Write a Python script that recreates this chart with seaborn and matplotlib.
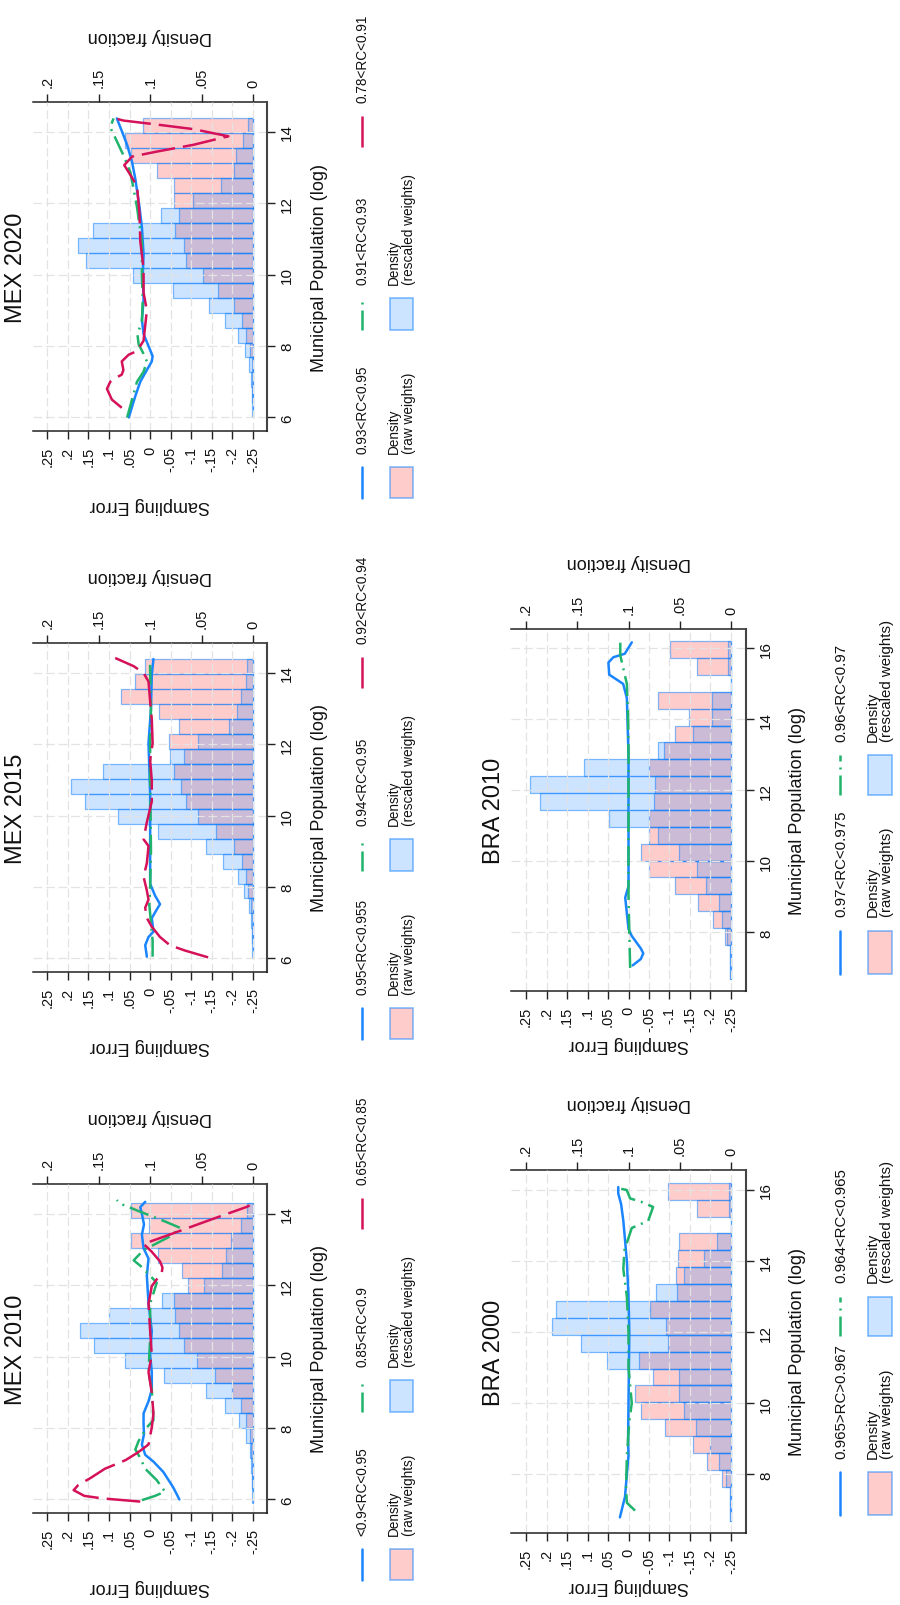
import numpy as np
import pandas as pd
import matplotlib
matplotlib.use("Agg")
import matplotlib.pyplot as plt
from matplotlib.lines import Line2D
from matplotlib.patches import Rectangle
import seaborn as sns

# ---------------- data ----------------
se_ticks = [0.25, 0.2, 0.15, 0.1, 0.05, 0.0, -0.05, -0.1, -0.15, -0.2, -0.25]
se_labels = [".25", ".2", ".15", ".1", ".05", "0", "-.05", "-.1", "-.15", "-.2", "-.25"]
dens_ticks = [0.2, 0.15, 0.1, 0.05, 0.0]
dens_labels = [".2", ".15", ".1", ".05", "0"]
mex_pop_ticks = [6, 8, 10, 12, 14]
bra_pop_ticks = [8, 10, 12, 14, 16]

mex_bin_width = 0.42
bra_bin_width = 0.475

# MEX 2020
mex20_bin_start = 6.0
mex20_raw = [0.0003, 0.0005, 0.0005, 0.001, 0.003, 0.007, 0.011, 0.0185, 0.034, 0.049,
             0.065, 0.0673, 0.0754, 0.0715, 0.077, 0.077, 0.093, 0.119, 0.124, 0.107]
mex20_resc = [0.001, 0.001, 0.002, 0.004, 0.008, 0.015, 0.027, 0.043, 0.078, 0.117,
              0.162, 0.170, 0.156, 0.089, 0.0585, 0.031, 0.0185, 0.017, 0.010, 0.005]
mex20_blue_pop = [6.0, 6.6, 7.0, 7.33, 7.57, 7.72, 8.0, 8.34, 8.73, 9.3, 10.0, 10.56, 11.33,
                  11.9, 12.68, 13.16, 13.64, 14.03, 14.38]
mex20_blue_se = [0.052, 0.036, 0.024, 0.008, -0.004, -0.006, 0.004, 0.016, 0.02, 0.016, 0.018,
                 0.016, 0.02, 0.026, 0.036, 0.044, 0.056, 0.069, 0.081]
mex20_green_pop = [6.0, 6.5, 7.0, 7.28, 7.57, 7.76, 8.05, 8.34, 8.68, 9.3, 10.0, 10.9, 11.9,
                   12.87, 13.35, 13.84, 14.13, 14.38]
mex20_green_se = [0.056, 0.044, 0.032, 0.016, 0.008, 0.015, 0.028, 0.031, 0.02, 0.018, 0.02,
                  0.02, 0.032, 0.048, 0.065, 0.085, 0.097, 0.089]
mex20_red_pop = [6.27, 6.5, 6.8, 7.0, 7.1, 7.2, 7.33, 7.57, 7.76, 7.86, 8.15, 9.0, 9.5, 10.17,
                 10.94, 11.72, 12.49, 12.87, 13.07, 13.31, 13.45, 13.64, 13.88, 14.08, 14.22,
                 14.32, 14.38]
mex20_red_se = [0.069, 0.093, 0.105, 0.097, 0.085, 0.069, 0.065, 0.069, 0.052, 0.032, 0.016,
                0.008, 0.016, 0.016, 0.024, 0.026, 0.032, 0.052, 0.063, 0.044, -0.016, -0.105,
                -0.19, -0.105, -0.008, 0.065, 0.085]

# MEX 2015
mex15_bin_start = 6.0
mex15_raw = [0.0003, 0.0005, 0.001, 0.002, 0.005, 0.007, 0.011, 0.0185, 0.036, 0.053,
             0.065, 0.070, 0.077, 0.067, 0.082, 0.0715, 0.091, 0.128, 0.115, 0.105]
mex15_resc = [0.0007, 0.001, 0.002, 0.004, 0.009, 0.015, 0.029, 0.046, 0.092, 0.131,
              0.163, 0.177, 0.146, 0.081, 0.053, 0.023, 0.016, 0.012, 0.007, 0.006]
mex15_blue_pop = [6.05, 6.37, 6.6, 6.75, 7.13, 7.37, 7.52, 7.76, 8.09, 8.67, 10.6, 12.03,
                  13.0, 13.95, 14.39]
mex15_blue_se = [0.008, 0.012, 0.004, -0.008, -0.004, -0.016, -0.024, -0.012, 0.0, 0.0, 0.0,
                 0.004, -0.002, -0.004, -0.008]
mex15_green_pop = [6.05, 6.5, 7.0, 7.5, 8.0, 9.0, 10.0, 11.0, 12.0, 13.0, 14.0, 14.39]
mex15_green_se = [-0.006, -0.006, -0.002, 0.002, 0.0, -0.002, -0.001, 0.0, 0.0, -0.002, 0.0,
                  0.0]
mex15_red_pop = [6.03, 6.22, 6.37, 6.6, 6.89, 7.13, 7.42, 7.65, 7.9, 8.29, 8.67, 9.15, 9.34,
                 9.82, 10.4, 10.98, 11.55, 12.03, 12.7, 13.2, 13.76, 14.0, 14.19, 14.42]
mex15_red_se = [-0.141, -0.085, -0.048, -0.024, -0.004, 0.008, 0.012, 0.004, 0.008, 0.016,
                0.008, 0.004, 0.016, 0.008, -0.004, -0.004, 0.0, -0.006, -0.004, 0.0, 0.004,
                0.016, 0.04, 0.085]

# MEX 2010
mex10_bin_start = 5.9
mex10_raw = [0.0003, 0.0005, 0.001, 0.002, 0.003, 0.007, 0.012, 0.020, 0.037, 0.054,
             0.067, 0.072, 0.076, 0.077, 0.063, 0.069, 0.092, 0.119, 0.101, 0.119]
mex10_resc = [0.0008, 0.001, 0.002, 0.003, 0.0065, 0.014, 0.027, 0.046, 0.087, 0.124,
              0.155, 0.168, 0.140, 0.088, 0.048, 0.030, 0.026, 0.021, 0.012, 0.006]
mex10_blue_pop = [6.0, 6.34, 6.77, 7.06, 7.25, 7.54, 7.83, 8.12, 8.41, 8.75, 9.08, 9.57, 10.05,
                  10.72, 11.49, 12.27, 12.75, 13.04, 13.42, 13.71, 14.0, 14.19, 14.34]
mex10_blue_se = [-0.071, -0.056, -0.032, -0.008, 0.012, 0.02, 0.015, 0.016, 0.016, 0.004,
                 -0.004, -0.004, 0.0, -0.004, 0.004, 0.008, 0.004, 0.016, 0.02, 0.015, 0.02,
                 0.024, 0.012]
mex10_green_pop = [5.98, 6.1, 6.22, 6.54, 6.86, 7.16, 7.4, 7.64, 8.02, 8.22, 9.08, 9.57, 10.53,
                   11.49, 12.07, 12.27, 12.55, 12.7, 12.99, 13.13, 13.37, 13.61, 13.81, 14.1,
                   14.29, 14.39]
mex10_green_se = [0.02, -0.012, -0.036, -0.016, 0.012, 0.024, 0.036, 0.028, 0.008, -0.008,
                  -0.004, 0.004, 0.0, 0.0, -0.016, 0.0, 0.024, 0.04, 0.016, -0.008, -0.048,
                  -0.073, -0.032, 0.032, 0.073, 0.081]
mex10_red_pop = [5.94, 6.03, 6.1, 6.26, 6.4, 6.6, 6.86, 7.1, 7.3, 7.4, 7.54, 8.02, 8.41, 8.99,
                 9.57, 10.05, 10.72, 11.49, 11.98, 12.17, 12.34, 12.5, 12.67, 12.94, 13.16,
                 13.42, 13.81, 14.2, 14.24]
mex10_red_se = [0.024, 0.117, 0.16, 0.186, 0.175, 0.145, 0.11, 0.06, 0.032, 0.02, 0.004,
                -0.004, -0.008, -0.004, 0.004, -0.004, 0.0, 0.004, -0.004, -0.016, -0.028,
                -0.03, -0.024, -0.004, 0.016, -0.047, -0.14, -0.235, -0.242]

# BRA 2010
bra10_bin_start = 6.7
bra10_raw = [0.0005, 0.001, 0.006, 0.018, 0.032, 0.055, 0.080, 0.088, 0.080, 0.080,
             0.075, 0.074, 0.080, 0.065, 0.055, 0.041, 0.071, 0.0, 0.033, 0.0595]
bra10_resc = [0.0005, 0.001, 0.0035, 0.009, 0.012, 0.024, 0.0335, 0.051, 0.071, 0.119,
              0.186, 0.196, 0.143, 0.071, 0.037, 0.019, 0.019, 0.0, 0.0026, 0.0026]
bra10_blue_pop = [7.07, 7.25, 7.41, 7.55, 7.9, 8.1, 8.98, 9.3, 11.0, 13.0, 14.6, 15.0, 15.26,
                  15.6, 15.75, 15.85, 16.17]
bra10_blue_se = [-0.01, -0.03, -0.036, -0.03, -0.008, 0.0, 0.008, 0.0, 0.0, 0.0, 0.004,
                 0.013, 0.047, 0.049, 0.037, 0.009, -0.008]
bra10_green_pop = [7.0, 8.0, 9.0, 10.0, 11.0, 12.0, 13.0, 14.0, 15.0, 15.4, 15.8, 16.2]
bra10_green_se = [-0.004, -0.002, 0.0, 0.0, 0.0, 0.0, 0.0, 0.001, 0.004, 0.012, 0.02, 0.02]

# BRA 2000
bra00_bin_start = 6.7
bra00_raw = [0.0005, 0.001, 0.009, 0.023, 0.037, 0.064, 0.088, 0.094, 0.076, 0.090,
             0.061, 0.063, 0.079, 0.053, 0.054, 0.052, 0.051, 0.0, 0.0335, 0.061]
bra00_resc = [0.0005, 0.001, 0.005, 0.012, 0.020, 0.034, 0.0455, 0.051, 0.051, 0.121,
              0.146, 0.175, 0.171, 0.073, 0.0455, 0.026, 0.014, 0.0, 0.002, 0.002]
bra00_blue_pop = [6.79, 7.37, 8.0, 8.53, 9.0, 10.0, 11.0, 12.0, 13.0, 14.0, 15.13, 15.6, 15.9,
                  16.08]
bra00_blue_se = [0.021, 0.0085, 0.004, 0.0, 0.001, 0.0, -0.001, -0.002, 0.0, 0.004, 0.0126,
                 0.018, 0.025, 0.025]
bra00_green_pop = [6.98, 7.2, 7.6, 8.5, 9.5, 10.0, 11.0, 12.0, 13.0, 13.77, 14.3, 14.93,
                   15.13, 15.52, 15.66, 15.76, 16.0, 16.05]
bra00_green_se = [-0.016, 0.004, 0.006, 0.004, -0.002, -0.008, 0.0, 0.0, 0.004, 0.0126, 0.01,
                  -0.008, -0.048, -0.06, -0.032, -0.004, 0.0045, 0.029]

mex20_labels = ["0.93<RC<0.95", "0.91<RC<0.93", "0.78<RC<0.91"]
mex15_labels = ["0.95<RC<0.955", "0.94<RC<0.95", "0.92<RC<0.94"]
mex10_labels = ["<0.9<RC<0.95", "0.85<RC<0.9", "0.65<RC<0.85"]
bra10_labels = ["0.97<RC<0.975", "0.96<RC<0.97"]
bra00_labels = ["0.965>RC>0.967", "0.964<RC<0.965"]
hist_labels = ["Density\n(raw weights)", "Density\n(rescaled weights)"]

# ---------------- style ----------------
sns.set_theme(style="white")
plt.rcParams["font.family"] = ["Liberation Sans", "DejaVu Sans"]
plt.rcParams["axes.unicode_minus"] = False

c_blue = "#1a85ff"
c_green = "#1fb36c"
c_red = "#d41159"
ls_blue = "-"
ls_green = (0, (8, 2.4, 0.8, 2.4))
ls_red = (0, (13.5, 3.2))
raw_fc = (1.0, 0.0, 0.0, 0.2)
resc_fc = (0.0, 0.47, 1.0, 0.2)
bar_ec = (0.1, 0.52, 1.0, 0.55)
txt = "#111111"

W, H = 900, 1606
fig = plt.figure(figsize=(W / 100, H / 100), dpi=100)
fig.patch.set_facecolor("white")


def fx(x):
    return x / W


def fy(y):
    return 1 - y / H


def draw_panel(geo, title, raw, resc, bin_start, bin_width, lines, pop_ticks, ylim, labels):
    x0, x1, top, bot = geo["x0"], geo["x1"], geo["top"], geo["bot"]
    se_lim = geo["se_lim"]
    ax = fig.add_axes([fx(x0), fy(bot), (x1 - x0) / W, (bot - top) / H])
    ax2 = ax.twiny()

    edges = [bin_start + bin_width * k for k in range(len(raw) + 1)]
    centers = [e + bin_width / 2 for e in edges[:-1]]
    hist_df = pd.DataFrame({"pop": centers, "raw": raw, "resc": resc})
    sns.histplot(data=hist_df, y="pop", weights="raw", bins=edges, ax=ax2,
                 facecolor=raw_fc, edgecolor=bar_ec, linewidth=0.9)
    sns.histplot(data=hist_df, y="pop", weights="resc", bins=edges, ax=ax2,
                 facecolor=resc_fc, edgecolor=bar_ec, linewidth=0.9)

    for se, pop, color, ls in lines:
        line_df = pd.DataFrame({"se": se, "pop": pop})
        sns.lineplot(data=line_df, x="se", y="pop", orient="y", sort=False, estimator=None,
                     errorbar=None, ax=ax, color=color, lw=1.8, linestyle=ls)

    ax.set_zorder(ax2.get_zorder() + 1)
    ax.patch.set_visible(False)

    ax.set_xlim(se_lim)
    ax2.set_xlim((se_lim[0] + 0.25) * 0.4, (se_lim[1] + 0.25) * 0.4)
    ax.set_ylim(ylim)
    for a in (ax, ax2):
        a.set_xlabel("")
        a.set_ylabel("")

    ax.set_xticks(se_ticks, labels=se_labels)
    ax.set_yticks(pop_ticks, labels=[str(t) for t in pop_ticks])
    ax.yaxis.set_ticks_position("right")
    ax.tick_params(axis="x", bottom=True, top=False, direction="out", length=5.5, width=1,
                   color="#222222", pad=5, labelsize=10.5, labelrotation=90, labelcolor=txt)
    ax.tick_params(axis="y", left=False, right=True, labelleft=False, labelright=True,
                   direction="out", length=5.5, width=1, color="#222222", pad=4,
                   labelsize=11, labelrotation=90, labelcolor=txt)
    for t in ax.get_yticklabels():
        t.set_va("center")
    ax2.set_xticks(dens_ticks, labels=dens_labels)
    ax2.tick_params(axis="x", top=True, bottom=False, labeltop=True, labelbottom=False,
                    direction="out", length=5.5, width=1, color="#222222", pad=5,
                    labelsize=10.5, labelrotation=90, labelcolor=txt)
    ax2.tick_params(axis="y", left=False, right=False, labelleft=False, labelright=False)

    ax.grid(True, color="#e3e3e3", lw=0.9, ls=(0, (7, 3)))
    ax2.grid(False)
    for s in ("left", "top"):
        ax.spines[s].set_visible(False)
    ax.spines["bottom"].set_color("#222222")
    ax.spines["bottom"].set_linewidth(1.1)
    ax.spines["right"].set_color("#444444")
    ax.spines["right"].set_linewidth(1.5)
    for s in ("left", "right", "bottom"):
        ax2.spines[s].set_visible(False)
    ax2.spines["top"].set_color("#222222")
    ax2.spines["top"].set_linewidth(1.1)

    xc = (x0 + x1) / 2
    yc = (top + bot) / 2
    fig.text(fx(x0 - 17), fy(yc), title, rotation=90, ha="center", va="center",
             fontsize=17, color=txt)
    fig.text(fx(x1 + 52), fy(yc), "Municipal Population (log)", rotation=90,
             ha="center", va="center", fontsize=13, color=txt)
    fig.text(fx(xc), fy(bot + geo["se_lab"]), "Sampling Error", rotation=180,
             ha="center", va="center", fontsize=13, color=txt)
    fig.text(fx(xc), fy(top - 67), "Density fraction", rotation=180,
             ha="center", va="center", fontsize=13, color=txt)

    # legend, drawn turned like the rest of the page
    lx = geo["leg_x"]
    px0, px1 = geo["patch_x"]
    fs = geo["leg_fs"]
    for i, lab in enumerate(labels):
        k0, k1 = geo["leg_cols"][i]
        y0, y1 = top + k0, top + k1
        color, ls = lines[i][2], lines[i][3]
        fig.add_artist(Line2D([fx(lx), fx(lx)], [fy(y1), fy(y0)], color=color, lw=1.8,
                              linestyle=ls, transform=fig.transFigure))
        fig.text(fx(lx + 1), fy(y0 - 14), lab, rotation=90, rotation_mode="anchor",
                 ha="left", va="center", fontsize=fs, color=txt)
    for i, (lab, fc) in enumerate(zip(hist_labels, (raw_fc, resc_fc))):
        k0, k1 = geo["leg_cols"][i]
        y0, y1 = top + k0, top + k1
        fig.add_artist(Rectangle((fx(px0), fy(y1)), (px1 - px0) / W, (y1 - y0) / H,
                                 facecolor=fc, edgecolor=bar_ec, lw=1.2,
                                 transform=fig.transFigure))
        fig.text(fx((px0 + px1) / 2), fy(y0 - 14), lab, rotation=90, rotation_mode="anchor",
                 ha="left", va="center", fontsize=fs, color=txt, linespacing=1.05)


mex_geo = dict(x0=33.3, x1=267, se_lim=(0.284, -0.284), se_lab=74, leg_x=361.5,
               patch_x=(390, 413), leg_fs=9.8,
               leg_cols=[(365, 396), (196, 228), (14, 45)])
bra_geo = dict(x0=511, x1=746, se_lim=(0.2866, -0.2866), se_lab=53, leg_x=840,
               patch_x=(868, 892), leg_fs=10.8,
               leg_cols=[(302, 345), (126.5, 166)])

mex_ylim = (5.62, 14.84)
bra_ylim = (6.35, 16.56)

draw_panel(dict(mex_geo, top=103, bot=432), "MEX 2020", mex20_raw, mex20_resc,
           mex20_bin_start, mex_bin_width,
           [(mex20_blue_se, mex20_blue_pop, c_blue, ls_blue),
            (mex20_green_se, mex20_green_pop, c_green, ls_green),
            (mex20_red_se, mex20_red_pop, c_red, ls_red)],
           mex_pop_ticks, mex_ylim, mex20_labels)
draw_panel(dict(mex_geo, top=644, bot=973), "MEX 2015", mex15_raw, mex15_resc,
           mex15_bin_start, mex_bin_width,
           [(mex15_blue_se, mex15_blue_pop, c_blue, ls_blue),
            (mex15_green_se, mex15_green_pop, c_green, ls_green),
            (mex15_red_se, mex15_red_pop, c_red, ls_red)],
           mex_pop_ticks, mex_ylim, mex15_labels)
draw_panel(dict(mex_geo, top=1185, bot=1514), "MEX 2010", mex10_raw, mex10_resc,
           mex10_bin_start, mex_bin_width,
           [(mex10_blue_se, mex10_blue_pop, c_blue, ls_blue),
            (mex10_green_se, mex10_green_pop, c_green, ls_green),
            (mex10_red_se, mex10_red_pop, c_red, ls_red)],
           mex_pop_ticks, mex_ylim, mex10_labels)
draw_panel(dict(bra_geo, top=629.5, bot=992), "BRA 2010", bra10_raw, bra10_resc,
           bra10_bin_start, bra_bin_width,
           [(bra10_blue_se, bra10_blue_pop, c_blue, ls_blue),
            (bra10_green_se, bra10_green_pop, c_green, ls_green)],
           bra_pop_ticks, bra_ylim, bra10_labels)
draw_panel(dict(bra_geo, top=1171, bot=1534), "BRA 2000", bra00_raw, bra00_resc,
           bra00_bin_start, bra_bin_width,
           [(bra00_blue_se, bra00_blue_pop, c_blue, ls_blue),
            (bra00_green_se, bra00_green_pop, c_green, ls_green)],
           bra_pop_ticks, bra_ylim, bra00_labels)

fig.savefig("out.png", dpi=100, facecolor="white")
